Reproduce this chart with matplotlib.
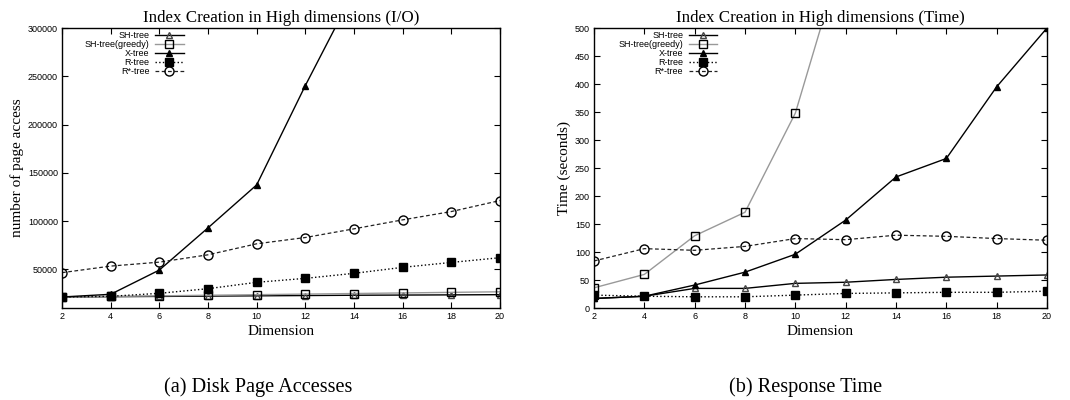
import matplotlib
matplotlib.use('Agg')
import matplotlib.pyplot as plt

# 维度
dims = [2, 4, 6, 8, 10, 12, 14, 16, 18, 20]

# (a) 页面访问次数
io_sh = [21400, 21700, 22000, 22300, 22600, 22900, 23200, 23400, 23600, 23800]
io_sh_greedy = [21400, 22000, 22600, 23200, 23800, 24400, 25000, 25600, 26200, 26800]
io_x = [21400, 24200, 49300, 93000, 137500, 240400, 338000]
io_r = [21400, 22100, 25200, 30000, 36600, 40700, 45900, 52100, 57200, 62100]
io_rstar = [46600, 53400, 57500, 65100, 76500, 83000, 92000, 101300, 109900, 121300]

# (b) 响应时间 (秒)
t_sh = [17, 21, 35, 35, 44, 46, 51, 55, 57, 59]
t_sh_greedy = [36, 60, 129, 171, 348, 650]
t_x = [17, 21, 41, 64, 96, 157, 234, 267, 395, 500]
t_r = [23, 21, 20, 20, 23, 26, 27, 28, 28, 30]
t_rstar = [84, 106, 103, 110, 124, 122, 130, 128, 124, 121]

labels = ['SH-tree', 'SH-tree(greedy)', 'X-tree', 'R-tree', 'R*-tree']

SERIF = 'Liberation Serif'
SANS = 'Liberation Sans'


def draw_series(ax, sh, shg, x, r, rs):
    ax.plot(dims[:len(sh)], sh, '-', color='black', lw=1.0, marker='^',
            mfc='none', mec='#444444', ms=5, label=labels[0])
    ax.plot(dims[:len(shg)], shg, '-', color='#999999', lw=1.0, marker='s',
            mfc='none', mec='black', ms=6, label=labels[1])
    ax.plot(dims[:len(x)], x, '-', color='black', lw=1.0, marker='^',
            mfc='black', mec='black', ms=4, label=labels[2])
    ax.plot(dims[:len(r)], r, ':', color='black', lw=1.0, marker='s',
            mfc='black', mec='black', ms=6, label=labels[3])
    ax.plot(dims[:len(rs)], rs, '--', color='#222222', lw=0.9, dashes=(3, 2),
            marker='o', mfc='none', mec='black', ms=6.5, label=labels[4])


def style_axes(ax, title, ylabel, leg_x):
    ax.set_xlim(2, 20)
    ax.set_xticks(dims)
    ax.set_title(title, family=SERIF, fontsize=12.2, pad=4)
    ax.set_xlabel('Dimension', family=SERIF, fontsize=11, labelpad=2.5)
    ax.set_ylabel(ylabel, family=SERIF, fontsize=11, labelpad=3)
    ax.tick_params(direction='in', top=True, right=True, length=4, width=0.8,
                   labelsize=6.5, pad=3)
    for t in ax.get_xticklabels() + ax.get_yticklabels():
        t.set_family(SANS)
    for s in ax.spines.values():
        s.set_linewidth(1.0)
    # 图例: 文字在左, 右对齐
    ax.legend(loc='upper left', bbox_to_anchor=(leg_x, 1.012), frameon=False,
              markerfirst=False, handlelength=3.2, handletextpad=0.6,
              labelspacing=0.0, borderpad=0.2,
              prop={'family': SANS, 'size': 6.5})


fig = plt.figure(figsize=(10.7, 4.0), dpi=100)
ax1 = fig.add_axes([62 / 1070, 92 / 400, 438 / 1070, 280 / 400])
ax2 = fig.add_axes([594 / 1070, 92 / 400, 453 / 1070, 280 / 400])

draw_series(ax1, io_sh, io_sh_greedy, io_x, io_r, io_rstar)
ax1.set_ylim(10000, 300000)
ax1.set_yticks([50000, 100000, 150000, 200000, 250000, 300000])
style_axes(ax1, 'Index Creation in High dimensions (I/O)', 'number of page access', 0.037)

draw_series(ax2, t_sh, t_sh_greedy, t_x, t_r, t_rstar)
ax2.set_ylim(0, 500)
ax2.set_yticks(range(0, 501, 50))
style_axes(ax2, 'Index Creation in High dimensions (Time)', 'Time (seconds)', 0.04)

fig.text(258 / 1070, 1 - 387 / 400, '(a) Disk Page Accesses', family=SERIF,
         fontsize=14.6, ha='center', va='center')
fig.text(806 / 1070, 1 - 387 / 400, '(b) Response Time', family=SERIF,
         fontsize=14.6, ha='center', va='center')

fig.savefig('out.png', dpi=100)
